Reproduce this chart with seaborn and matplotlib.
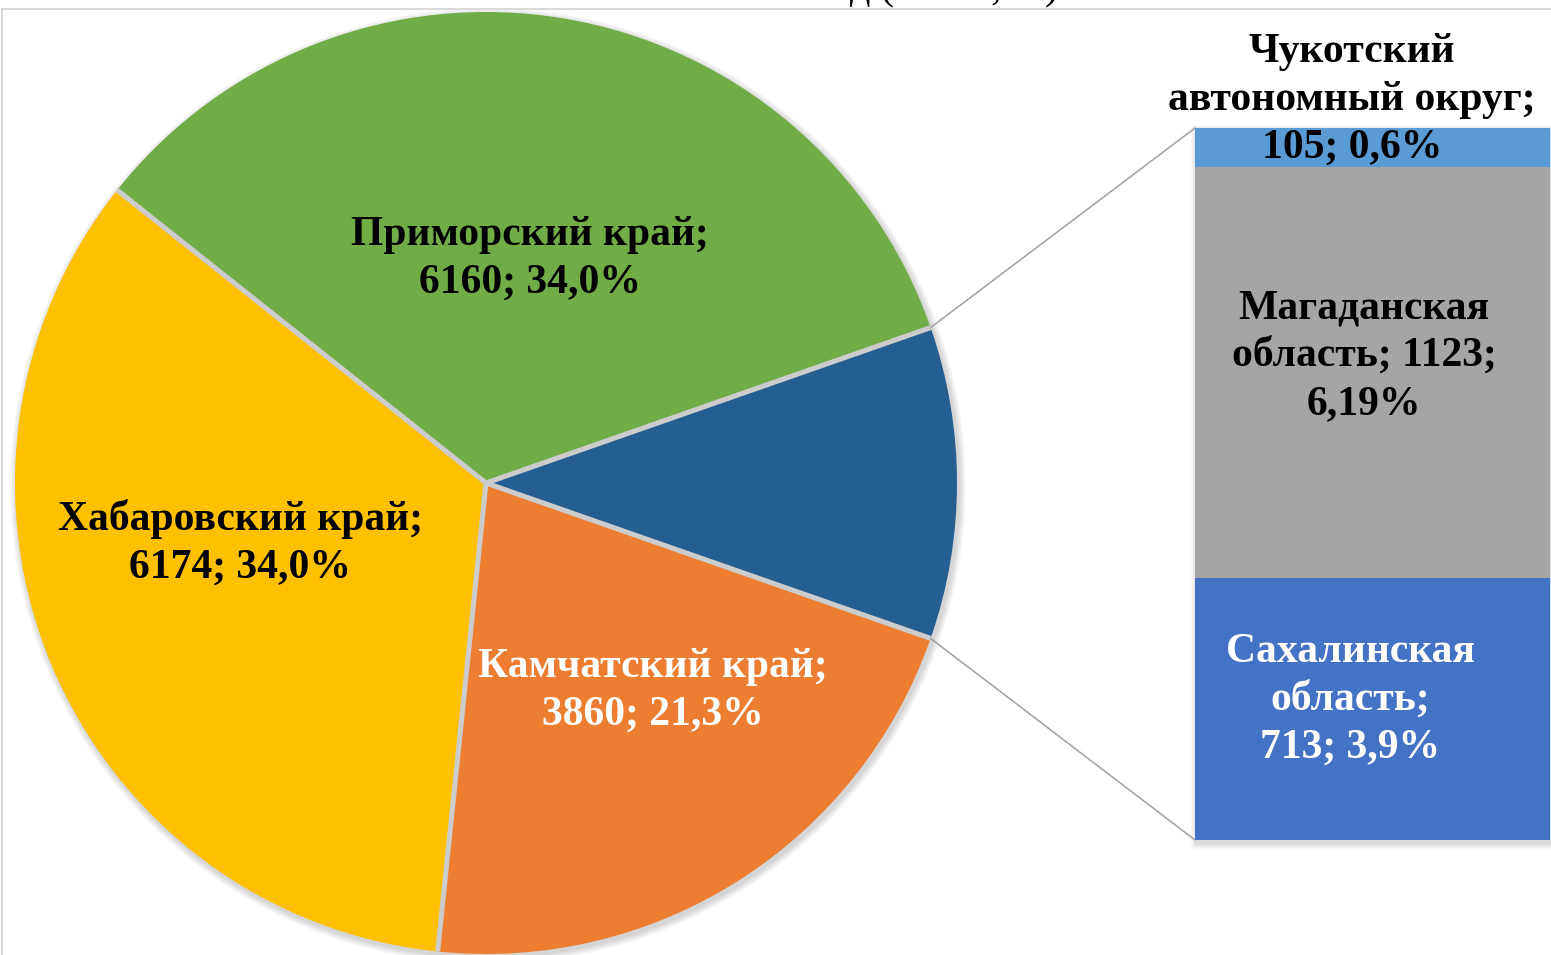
import matplotlib
matplotlib.use("Agg")
import matplotlib.pyplot as plt
import seaborn as sns
import numpy as np
from matplotlib.patches import Circle, Rectangle

W, H = 1551, 955

# pie part
pie_names = ["Приморский край", "Хабаровский край", "Камчатский край"]
pie_values = [6160, 6174, 3860]
pie_pcts = ["34,0%", "34,0%", "21,3%"]
pie_colors = ["#70AD47", "#FFC000", "#ED7D31"]
other_color = "#255E91"

# bar part (bottom -> top)
bar_names = ["Сахалинская\nобласть", "Магаданская\nобласть", "Чукотский\nавтономный округ"]
bar_values = [713, 1123, 105]
bar_pcts = ["3,9%", "6,19%", "0,6%"]
bar_colors = ["#4472C4", "#A5A5A5", "#5B9BD5"]

title = "Вылов за 2020 год (тыс. т, %)"

other_total = sum(bar_values)
all_values = pie_values + [other_total]
total = sum(all_values)

sns.set_theme(style="white")
plt.rcParams["font.family"] = ["Liberation Serif", "DejaVu Serif"]

fig = plt.figure(figsize=(W / 100, H / 100), dpi=100)
ax = fig.add_axes([0, 0, 1, 1])

cx, cy, r = 486, H - 483, 471
start = 360 * other_total / 2 / total

# soft shadow under the pie
for k in range(1, 8):
    ax.add_patch(Circle((cx + 2, cy - 3), r + k, color="black", alpha=0.025, lw=0, zorder=0))

ax.pie(all_values, colors=pie_colors + [other_color], startangle=start,
       radius=r, center=(cx, cy), wedgeprops=dict(linewidth=0, zorder=1))

# light separators between slices
bounds = start + 360 * np.cumsum([0] + all_values[:-1]) / total
for a in np.radians(bounds):
    ax.plot([cx, cx + r * np.cos(a)], [cy, cy + r * np.sin(a)],
            color="#CCCCCC", lw=3.6, solid_capstyle="butt", zorder=2)

# bar geometry in pixels
bx0, bx1, by0, by1 = 1195, 1550, 128, 840

# connector lines
a = np.radians(start)
ax.plot([cx + r * np.cos(a), bx0], [cy + r * np.sin(a), H - by0], color="#A6A6A6", lw=1.2, zorder=2)
ax.plot([cx + r * np.cos(-a), bx0], [cy + r * np.sin(-a), H - by1], color="#A6A6A6", lw=1.2, zorder=2)

# bar shadow
for k in range(1, 7):
    ax.add_patch(Rectangle((bx0 - k + 2, H - by1 - k - 3), bx1 - bx0 + 2 * k, by1 - by0 + 2 * k,
                           color="black", alpha=0.025, lw=0, zorder=0))

# frame
ax.plot([2, 2], [0, H - 9], color="#D9D9D9", lw=1.5, zorder=3)
ax.plot([2, W], [H - 9, H - 9], color="#D9D9D9", lw=1.5, zorder=3)

ax.set_xlim(0, W)
ax.set_ylim(0, H)
ax.set_aspect("auto")
ax.axis("off")

bax = fig.add_axes([bx0 / W, (H - by1) / H, (bx1 - bx0) / W, (by1 - by0) / H])
bottom = 0
for val, col in zip(bar_values, bar_colors):
    sns.barplot(x=["Прочие"], y=[val], bottom=bottom, color=col, width=1,
                saturation=1, errorbar=None, edgecolor="none", linewidth=0, ax=bax)
    bottom += val
bax.set_xlim(-0.5, 0.5)
bax.set_ylim(0, other_total)
bax.axis("off")

# labels (figure-level so they sit above both axes)
templates = ["{n};\n{v}; {p}"] * 3 + ["{n};\n{v}; {p}", "{n}; {v};\n{p}", "{n};\n{v}; {p}"]
names = pie_names + bar_names
values = pie_values + bar_values
pcts = pie_pcts + bar_pcts
anchors = [(530, 245), (240, 530), (653, 677), (1350, 662), (1364, 318), (1352, 62)]
colors = ["black", "black", "white", "white", "black", "black"]
fs = 30
step = 48

for tpl, n, v, p, (x0, y0), c in zip(templates, names, values, pcts, anchors, colors):
    lines = tpl.format(n=n, v=v, p=p).split("\n")
    for i, line in enumerate(lines):
        fig.text(x0, H - (y0 + i * step), line, transform=ax.transData,
                 ha="center", va="baseline", fontsize=fs, fontweight="bold", color=c, zorder=5)

# title, mostly above the visible area
fig.text(1058 / W, 1 + 1 / H, title, ha="right", va="baseline", fontsize=29, color="black")

fig.savefig("out.png", dpi=100)
